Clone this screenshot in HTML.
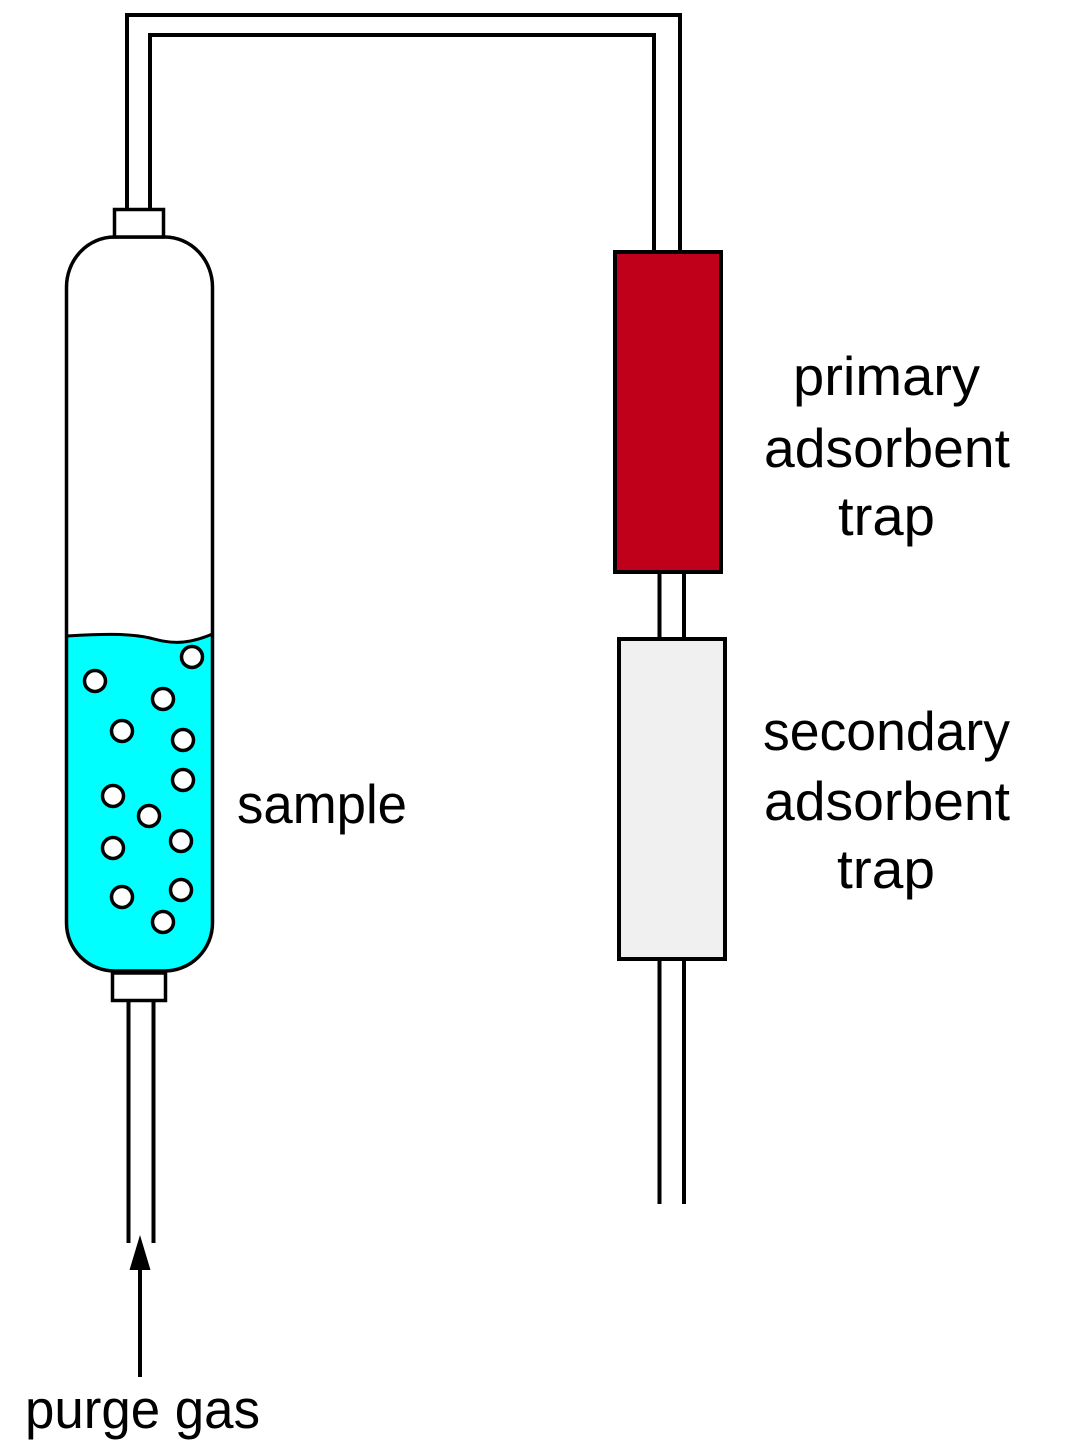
<!DOCTYPE html>
<html>
<head>
<meta charset="utf-8">
<style>
html,body{margin:0;padding:0;background:#fff;}
svg{display:block;}
text{font-family:"Liberation Sans",sans-serif;font-size:55px;fill:#000;}
</style>
</head>
<body>
<svg width="1069" height="1453" viewBox="0 0 1069 1453" xmlns="http://www.w3.org/2000/svg">
  <!-- upper tubes -->
  <polyline points="127,208 127,15 680,15 680,252" fill="none" stroke="#000" stroke-width="4" stroke-linejoin="miter"/>
  <polyline points="150,208 150,35 654,35 654,252" fill="none" stroke="#000" stroke-width="4" stroke-linejoin="miter"/>

  <!-- bottle -->
  <path d="M66.5,287 A48,50 0 0 1 114,237 L165,237 A48,50 0 0 1 212.5,287 L212.5,923 A48,48 0 0 1 164,971 L115,971 A48,48 0 0 1 66.5,923 Z" fill="#fff" stroke="none"/>
  <!-- liquid -->
  <path d="M66.5,636 C100,634 128,633 150,638 C166,642 182,647 212.5,634 L212.5,923 A48,48 0 0 1 164,971 L115,971 A48,48 0 0 1 66.5,923 Z" fill="#00ffff" stroke="none"/>
  <path d="M66.5,636 C100,634 128,633 150,638 C166,642 182,647 212.5,634" fill="none" stroke="#000" stroke-width="3"/>
  <path d="M66.5,287 A48,50 0 0 1 114,237 L165,237 A48,50 0 0 1 212.5,287 L212.5,923 A48,48 0 0 1 164,971 L115,971 A48,48 0 0 1 66.5,923 Z" fill="none" stroke="#000" stroke-width="3.5"/>

  <!-- caps -->
  <rect x="114.5" y="209.5" width="49" height="27.5" fill="#fff" stroke="#000" stroke-width="3.5"/>
  <rect x="112.5" y="973" width="53" height="27.5" fill="#fff" stroke="#000" stroke-width="3.5"/>

  <!-- bubbles -->
  <g fill="#fff" stroke="#000" stroke-width="3.5">
    <circle cx="192" cy="657" r="10.5"/>
    <circle cx="95" cy="681" r="10.5"/>
    <circle cx="163" cy="699" r="10.5"/>
    <circle cx="122" cy="731" r="10.5"/>
    <circle cx="183" cy="740" r="10.5"/>
    <circle cx="183" cy="780" r="10.5"/>
    <circle cx="113" cy="796" r="10.5"/>
    <circle cx="149" cy="816" r="10.5"/>
    <circle cx="113" cy="848" r="10.5"/>
    <circle cx="181" cy="841" r="10.5"/>
    <circle cx="122" cy="897" r="10.5"/>
    <circle cx="181" cy="890" r="10.5"/>
    <circle cx="163" cy="922" r="10.5"/>
  </g>

  <!-- lower tubes from bottle -->
  <line x1="128.5" y1="1002" x2="128.5" y2="1243" stroke="#000" stroke-width="4"/>
  <line x1="153.5" y1="1002" x2="153.5" y2="1243" stroke="#000" stroke-width="4"/>

  <!-- arrow -->
  <line x1="140" y1="1266" x2="140" y2="1377" stroke="#000" stroke-width="4"/>
  <polygon points="140,1235 129.5,1270 150.5,1270" fill="#000"/>

  <!-- primary trap -->
  <rect x="615" y="252" width="106" height="320" fill="#c0001a" stroke="#000" stroke-width="4"/>
  <!-- connecting tubes -->
  <line x1="659.5" y1="574" x2="659.5" y2="637" stroke="#000" stroke-width="4"/>
  <line x1="684" y1="574" x2="684" y2="637" stroke="#000" stroke-width="4"/>
  <!-- secondary trap -->
  <rect x="619" y="639" width="106" height="320" fill="#f0f0f0" stroke="#000" stroke-width="4"/>
  <!-- bottom tubes -->
  <line x1="659.5" y1="961" x2="659.5" y2="1204" stroke="#000" stroke-width="4"/>
  <line x1="684" y1="961" x2="684" y2="1204" stroke="#000" stroke-width="4"/>

  <!-- labels -->
  <text x="793" y="395" textLength="187" lengthAdjust="spacingAndGlyphs">primary</text>
  <text x="764" y="467" textLength="246" lengthAdjust="spacingAndGlyphs">adsorbent</text>
  <text x="838" y="535" textLength="97" lengthAdjust="spacingAndGlyphs">trap</text>

  <text x="763" y="750" textLength="247" lengthAdjust="spacingAndGlyphs">secondary</text>
  <text x="764" y="820" textLength="246" lengthAdjust="spacingAndGlyphs">adsorbent</text>
  <text x="837" y="888" textLength="98" lengthAdjust="spacingAndGlyphs">trap</text>

  <text x="237" y="823" textLength="170" lengthAdjust="spacingAndGlyphs">sample</text>
  <text x="25" y="1428" textLength="235" lengthAdjust="spacingAndGlyphs">purge gas</text>
</svg>
</body>
</html>
